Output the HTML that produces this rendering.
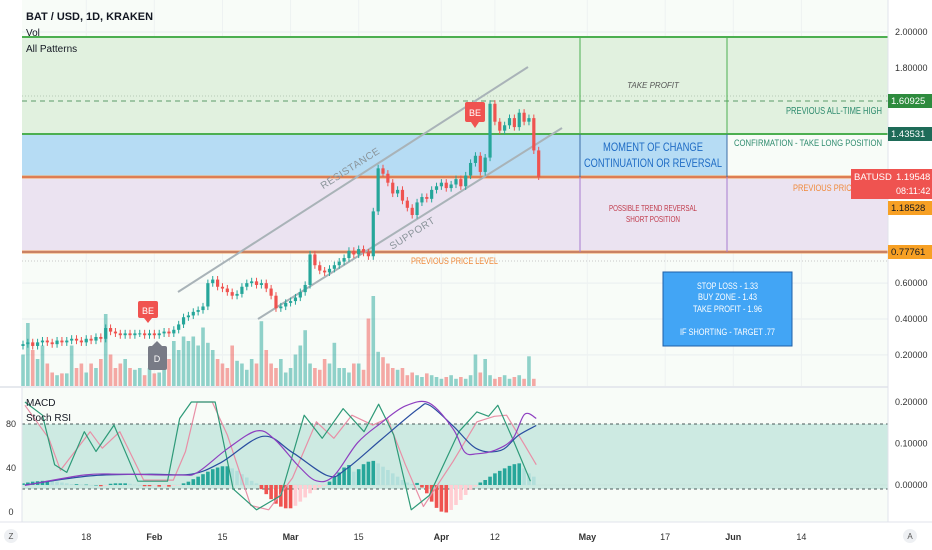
<!DOCTYPE html>
<html><head><meta charset="utf-8"><style>
body{margin:0;background:#fff;font-family:"Liberation Sans",sans-serif;}
svg{display:block}
text{font-family:"Liberation Sans",sans-serif}
</style></head><body>
<svg id="c" width="932" height="550">
<rect x="0" y="0" width="932" height="550" fill="#fff"/>
<rect x="22" y="0" width="866" height="522" fill="#f8fcf8"/>
<g id="grid"></g>
<rect x="22" y="37" width="866" height="97" fill="#e1f1df"/>
<rect x="22" y="134" width="705" height="43" fill="#b6dcf4"/>
<rect x="727" y="134" width="161" height="43" fill="#f8fcf8"/>
<rect x="22" y="177" width="866" height="75" fill="#ebe3f1"/>
<line x1="22" y1="37" x2="888" y2="37" stroke="#4caf50" stroke-width="2"/>
<line x1="22" y1="134" x2="888" y2="134" stroke="#4caf50" stroke-width="2"/>
<line x1="22" y1="101" x2="888" y2="101" stroke="#5a9a6a" stroke-width="1" stroke-dasharray="5,4"/>
<line x1="22" y1="96" x2="888" y2="96" stroke="#b5c9b5" stroke-width="1" stroke-dasharray="1,2"/>
<line x1="22" y1="177" x2="888" y2="177" stroke="#f4a35c" stroke-width="3"/>
<line x1="22" y1="177" x2="888" y2="177" stroke="#c9574c" stroke-width="1"/>
<line x1="22" y1="252" x2="888" y2="252" stroke="#f4a35c" stroke-width="3"/>
<line x1="22" y1="252" x2="888" y2="252" stroke="#a0606a" stroke-width="1"/>
<line x1="22" y1="261" x2="888" y2="261" stroke="#c8c8c8" stroke-width="1" stroke-dasharray="1,2"/>
<line x1="580" y1="37" x2="580" y2="134" stroke="#4caf50" stroke-width="1"/>
<line x1="727" y1="37" x2="727" y2="134" stroke="#4caf50" stroke-width="1"/>
<line x1="580" y1="134" x2="580" y2="177" stroke="#3b6da6" stroke-width="1"/>
<line x1="727" y1="134" x2="727" y2="177" stroke="#3b6da6" stroke-width="1"/>
<line x1="580" y1="177" x2="580" y2="252" stroke="#a77bd0" stroke-width="1"/>
<line x1="727" y1="177" x2="727" y2="252" stroke="#a77bd0" stroke-width="1"/>
<g id="vol"></g>
<line x1="178" y1="292" x2="528" y2="67" stroke="#a9b3b8" stroke-width="2"/>
<line x1="258" y1="319" x2="562" y2="128" stroke="#a9b3b8" stroke-width="2"/>
<text x="352" y="171" transform="rotate(-32.7 352 171)" text-anchor="middle" font-size="10" fill="#8a949a" letter-spacing="0.5">RESISTANCE</text>
<text x="414" y="236" transform="rotate(-32.5 414 236)" text-anchor="middle" font-size="10" fill="#8a949a" letter-spacing="0.5">SUPPORT</text>
<g id="candles"></g>
<g><rect x="138" y="301" width="20" height="17" rx="2" fill="#f05350"/><polygon points="144,318 152,318 148,323" fill="#f05350"/><text x="148" y="314" text-anchor="middle" font-size="9" fill="#fff">BE</text></g>
<g><rect x="465" y="102" width="20" height="20" rx="2" fill="#f05350"/><polygon points="471,122 479,122 475,128" fill="#f05350"/><text x="475" y="116" text-anchor="middle" font-size="9" fill="#fff">BE</text></g>
<g><polygon points="152,346 157,341 162,346" fill="#787b86"/><rect x="148" y="346" width="19" height="24" rx="2" fill="#787b86"/><text x="157" y="362" text-anchor="middle" font-size="9" fill="#fff">D</text></g>
<text x="26" y="20" font-size="11" font-weight="bold" fill="#131722" textLength="127" lengthAdjust="spacingAndGlyphs">BAT / USD, 1D, KRAKEN</text>
<text x="26" y="36" font-size="10" fill="#131722">Vol</text>
<text x="26" y="52" font-size="10" fill="#131722">All Patterns</text>
<text x="653" y="88" text-anchor="middle" font-size="8" font-style="italic" fill="#555">TAKE PROFIT</text>
<text x="786" y="114" font-size="10" fill="#2e8b6e" textLength="96" lengthAdjust="spacingAndGlyphs">PREVIOUS ALL-TIME HIGH</text>
<text x="734" y="146" font-size="9.5" fill="#2e8b6e" textLength="148" lengthAdjust="spacingAndGlyphs">CONFIRMATION - TAKE LONG POSITION</text>
<text x="603" y="151" font-size="12" fill="#1e6bc4" textLength="100" lengthAdjust="spacingAndGlyphs">MOMENT OF CHANGE</text>
<text x="584" y="167" font-size="12" fill="#1e6bc4" textLength="138" lengthAdjust="spacingAndGlyphs">CONTINUATION OR REVERSAL</text>
<text x="793" y="191" font-size="9.5" fill="#f08a3c" textLength="89" lengthAdjust="spacingAndGlyphs">PREVIOUS PRICE LEVEL</text>
<text x="411" y="264" font-size="9.5" fill="#f08a3c" textLength="87" lengthAdjust="spacingAndGlyphs">PREVIOUS PRICE LEVEL</text>
<text x="609" y="211" font-size="8" fill="#c0394a" textLength="88" lengthAdjust="spacingAndGlyphs">POSSIBLE TREND REVERSAL</text>
<text x="626" y="222" font-size="8" fill="#c0394a" textLength="54" lengthAdjust="spacingAndGlyphs">SHORT POSITION</text>
<g>
<rect x="663" y="272" width="129" height="74" fill="#42a5f5" stroke="#1e5fa8" stroke-width="1"/>
<text x="697" y="289" font-size="9" fill="#fff" textLength="61" lengthAdjust="spacingAndGlyphs">STOP LOSS - 1.33</text>
<text x="698" y="300" font-size="9" fill="#fff" textLength="59" lengthAdjust="spacingAndGlyphs">BUY ZONE - 1.43</text>
<text x="693" y="312" font-size="9" fill="#fff" textLength="69" lengthAdjust="spacingAndGlyphs">TAKE PROFIT - 1.96</text>
<text x="680" y="335" font-size="9" fill="#fff" textLength="95" lengthAdjust="spacingAndGlyphs">IF SHORTING - TARGET .77</text>
</g>
<rect x="0" y="386" width="932" height="2" fill="#e6e9ee"/>
<rect x="22" y="388" width="866" height="134" fill="#f8fcf8"/>
<rect x="22" y="424" width="866" height="65" fill="#cdeae2"/>
<line x1="22" y1="424" x2="888" y2="424" stroke="#4a5a5a" stroke-dasharray="3,3"/>
<line x1="22" y1="489" x2="888" y2="489" stroke="#4a5a5a" stroke-dasharray="3,3"/>
<line x1="22" y1="485" x2="888" y2="485" stroke="#c6e4dc" stroke-width="1"/>
<g id="ind"></g>
<text x="26" y="406" font-size="10" fill="#131722">MACD</text>
<text x="26" y="421" font-size="10" fill="#131722">Stoch RSI</text>
<rect x="888" y="0" width="44" height="550" fill="#fff"/>
<line x1="888" y1="0" x2="888" y2="522" stroke="#e0e3eb"/>
<rect x="0" y="388" width="22" height="134" fill="#fff"/>
<line x1="22" y1="388" x2="22" y2="522" stroke="#e0e3eb"/>
<rect x="0" y="522" width="932" height="28" fill="#fff"/>
<line x1="0" y1="522" x2="932" y2="522" stroke="#e0e3eb"/>
<g id="axes" font-size="9" fill="#333"></g>
<g><rect x="888" y="94" width="44" height="14" fill="#2e8b3e"/><text x="891" y="104" font-size="9.5" fill="#fff">1.60925</text></g>
<g><rect x="888" y="127" width="44" height="14" fill="#1e6b58"/><text x="891" y="137" font-size="9.5" fill="#fff">1.43531</text></g>
<g><rect x="851" y="169" width="81" height="30" fill="#ef5350"/><text x="854" y="180" font-size="9.5" fill="#fff">BATUSD</text><text x="896" y="180" font-size="9.5" fill="#fff">1.19548</text><text x="896" y="194" font-size="9" fill="#fff">08:11:42</text></g>
<g><rect x="888" y="201" width="44" height="14" fill="#f7a024"/><text x="891" y="211" font-size="9.5" fill="#131722">1.18528</text></g>
<g><rect x="888" y="245" width="44" height="14" fill="#f7a024"/><text x="891" y="255" font-size="9.5" fill="#131722">0.77761</text></g>
<g><circle cx="11" cy="536" r="7" fill="#eef0f3"/><text x="11" y="539" text-anchor="middle" font-size="8" fill="#555">Z</text></g>
<g><circle cx="910" cy="536" r="7" fill="#eef0f3"/><text x="910" y="539" text-anchor="middle" font-size="8" fill="#555">A</text></g>
</svg>
<script>
const closes=[0.26,0.27,0.25,0.27,0.28,0.27,0.26,0.28,0.27,0.28,0.29,0.28,0.27,0.29,0.28,0.3,0.29,
0.35,0.33,0.32,0.31,0.32,0.31,0.32,0.32,0.31,0.32,0.31,0.32,0.33,0.32,
0.34,0.37,0.41,0.42,0.44,0.45,0.47,
0.6,0.62,0.58,0.57,0.55,0.53,0.54,0.58,0.6,0.61,0.59,0.6,0.57,0.53,
0.46,0.47,0.49,0.5,0.52,0.55,0.59,
0.76,0.7,0.67,0.66,0.68,0.7,0.72,0.74,0.78,0.76,0.79,0.77,0.75,
1.0,1.24,1.21,1.16,1.1,1.12,1.06,1.02,0.98,1.05,1.08,1.07,1.12,1.14,1.16,1.13,1.15,1.18,1.14,1.2,1.27,1.31,
1.22,1.3,1.6,1.5,1.45,1.48,1.52,1.47,1.55,1.5,1.52,1.34,1.195];
const volumes=[35,70,40,30,45,25,15,12,14,14,45,20,25,15,25,20,30,80,35,20,25,30,20,18,20,12,20,14,15,18,30,50,40,55,50,55,45,65,48,40,30,25,20,45,28,25,18,30,25,72,40,25,20,30,15,20,35,45,62,25,20,18,30,25,48,20,20,15,25,25,18,75,100,38,32,25,20,18,20,12,15,12,10,14,12,10,8,10,12,8,10,8,12,35,15,30,12,8,10,12,8,10,12,8,33,8];
const histogram=[0.004,0.006,0.008,0.009,0.01,0.01,0.009,0.008,0.006,0.004,0.002,
0.002,0.001,0.001,0,0,-0.003,-0.002,0.003,0.004,0.004,0.004,0.003,0.001,0,
-0.003,-0.003,-0.002,-0.004,-0.003,-0.004,-0.002,-0.001,0.004,0.008,0.014,
0.02,0.026,0.032,0.038,0.042,0.045,0.045,0.04,0.034,0.026,0.018,0.01,0.004,
-0.01,-0.022,-0.034,-0.045,-0.052,-0.056,-0.056,-0.05,-0.04,-0.03,-0.02,-0.012,-0.006,-0.002,
0.008,0.02,0.03,0.042,0.048,0.032,0.038,0.05,0.056,0.058,0.052,0.044,0.036,0.028,0.02,0.012,0.006,0.002,0.005,
-0.006,-0.02,-0.04,-0.055,-0.064,-0.066,-0.06,-0.048,-0.036,-0.024,-0.012,-0.004,
0.006,0.012,0.02,0.028,0.034,0.04,0.046,0.05,0.052,0.04,0.028,0.02];
const kDays=[0.4,4,6.5,9,12.6,15,18.7,23.6,29.7,32.2,34.6,39.5,43.2,48,53,57.8,61.5,65.8,70.1,73.1,76.2,79.8,83.5,89.6,93.3,95.7,97.6,100.6,104.3];
const kVals=[100,88,43,36,73,55,79,28,28,85,100,100,21,2,15,88,67,94,73,98,70,2,15,73,91,87,97,67,28];
const dDays=[0.4,5.3,7.7,13.8,16.3,19.9,24.8,30.9,33.4,35.8,38.9,42,46.8,50.5,55.4,60.3,63.9,67.6,71.9,74.9,78.6,82.3,88.4,93.3,96.9,99.4,103.1,105.5];
const dVals=[97,67,38,73,58,73,29,29,55,100,100,70,6,2,31,82,67,88,79,85,43,5,46,82,87,88,61,43];
const macdDays=[0.4,12.6,19.9,32.2,35.8,42,48,51.7,56.6,60.3,63.9,68.8,73.7,78.6,83.5,88.4,90.8,93.3,96.9,100.6,103.1,105.5];
const macdVals=[-0.001,0.024,0.026,0.024,0.03,0.087,0.13,0.11,0.046,0.01,0.022,0.102,0.15,0.19,0.197,0.135,0.079,0.075,0.083,0.11,0.17,0.16];
const sigDays=[0.4,13.8,26,34.6,40.7,49.3,55.4,62.7,66.4,73.7,81.1,83.5,88.4,93.3,98.2,101.8,105.5];
const sigVals=[0,0.022,0.026,0.026,0.054,0.117,0.078,0.022,0.038,0.11,0.182,0.192,0.142,0.087,0.083,0.119,0.143];
const priceTicks=[2.0,1.8,0.6,0.4,0.2];
const macdTicks=[0.2,0.1,0.0];
const stochTicks=[80,40,0];
const timeDays=[13,27,41,55,69,86,97,116,132,146,160];
const timeLabels=["18","Feb","15","Mar","15","Apr","12","May","17","Jun","14"];
const timeBold=[false,true,false,true,false,true,false,true,false,true,false];
const X=d=>23+d*4.865;
const PY=p=>32+(2-p)*179.4;
const MY=m=>485-m*416;
const SY=s=>512-s*1.1;
const VY=v=>386-v*0.9;
const NS="http://www.w3.org/2000/svg";
function mk(tag,attrs,parent){const e=document.createElementNS(NS,tag);for(const k in attrs)e.setAttribute(k,attrs[k]);parent.appendChild(e);return e;}
const grid=document.getElementById('grid');
priceTicks.forEach(p=>{mk('line',{x1:22,x2:888,y1:PY(p),y2:PY(p),stroke:'#e9eef0'},grid);});
timeDays.forEach(d=>{mk('line',{x1:X(d),x2:X(d),y1:0,y2:522,stroke:'#eef2f2'},grid);});
const vol=document.getElementById('vol');
volumes.forEach((v,i)=>{const o=i?closes[i-1]:0.25;const up=closes[i]>=o;
 const r=mk('rect',{x:X(i)-1.8,y:VY(v),width:3.6,height:386-VY(v),fill:up?'rgba(38,166,154,0.5)':'rgba(239,83,80,0.5)'},vol);
 
 });
const cg=document.getElementById('candles');
closes.forEach((c,i)=>{const o=i?closes[i-1]:0.25;const up=c>=o;const col=up?'#26a69a':'#ef5350';
 const hi=Math.max(o,c)+0.02,lo=Math.min(o,c)-0.02;
 mk('line',{x1:X(i),x2:X(i),y1:PY(hi),y2:PY(lo),stroke:col,'stroke-width':1},cg);
 const top=PY(Math.max(o,c)),h=Math.max(1,Math.abs(PY(o)-PY(c)));
 const r=mk('rect',{x:X(i)-1.6,y:top,width:3.2,height:h,fill:col},cg);
 
 });
const ig=document.getElementById('ind');
histogram.forEach((h,i)=>{const prev=i?histogram[i-1]:0;let col;
 if(h>=0)col=h>=prev?'#26a69a':'#b2dfdb';else col=h<=prev?'#ef5350':'#ffcdd2';
 const y=Math.min(MY(h),485),hh=Math.max(0.5,Math.abs(MY(h)-485));
 const r=mk('rect',{x:X(i)-1.8,y:y,width:3.6,height:hh,fill:col},ig);
 
 });
function smooth(days,vals,fy){let pts=days.map((d,i)=>[X(d),fy(vals[i])]);let s='M'+pts[0][0]+','+pts[0][1];
 for(let i=1;i<pts.length;i++){const p0=pts[i-2]||pts[i-1],p1=pts[i-1],p2=pts[i],p3=pts[i+1]||p2;
 s+=' C'+(p1[0]+(p2[0]-p0[0])/6)+','+(p1[1]+(p2[1]-p0[1])/6)+' '+(p2[0]-(p3[0]-p1[0])/6)+','+(p2[1]-(p3[1]-p1[1])/6)+' '+p2[0]+','+p2[1];}return s;}
function poly(days,vals,fy){return 'M'+days.map((d,i)=>X(d)+','+fy(vals[i])).join(' L');}
const lines=[[dDays,dVals,SY,'#e88fa6','stoch-d-line',poly],[kDays,kVals,SY,'#2e9a78','stoch-k-line',poly],[sigDays,sigVals,MY,'#2a4ea0','macd-signal-line',smooth],[macdDays,macdVals,MY,'#8e3fc0','macd-line',smooth]];
lines.forEach(l=>{const p=mk('path',{d:l[5](l[0],l[1],l[2]),fill:'none',stroke:l[3],'stroke-width':1.2,'stroke-linejoin':'round'},ig);
 
 });
const ax=document.getElementById('axes');
priceTicks.forEach(p=>{const t=mk('text',{x:895,y:PY(p)+3},ax);t.textContent=p.toFixed(5);
 
 });
macdTicks.forEach(m=>{const t=mk('text',{x:895,y:MY(m)+3},ax);t.textContent=m.toFixed(5);
 
 });
stochTicks.forEach(s=>{const t=mk('text',{x:11,y:SY(s)+3,'text-anchor':'middle'},ax);t.textContent=s;
 
 });
timeLabels.forEach((l,i)=>{const t=mk('text',{x:X(timeDays[i]),y:540,'text-anchor':'middle','font-weight':timeBold[i]?'bold':'normal'},ax);t.textContent=l;
 
 });
</script>
</body></html>
